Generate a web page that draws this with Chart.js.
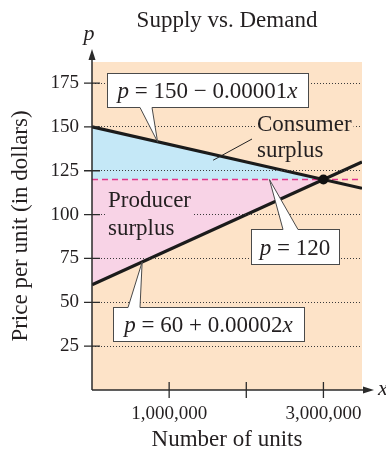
<!DOCTYPE html>
<html><head><meta charset="utf-8">
<script src="https://cdn.jsdelivr.net/npm/chart.js@4/dist/chart.umd.min.js"></script>
<style>html,body{margin:0;padding:0;background:#fff;}#wrap{width:386px;height:451px;}</style>
</head><body><div id="wrap"><canvas id="c" width="386" height="451"></canvas></div>
<script>
const chartTitle = 'Supply vs. Demand';
const xAxisTitle = 'Number of units';
const yAxisTitle = 'Price per unit (in dollars)';
const xDomain = [0, 3500000];
const demandPrices = [150, 115];
const supplyPrices = [60, 130];
const surplusX = [0, 3000000];
const consumerSurplusTop = [150, 120];
const producerSurplusBottom = [60, 120];
const equilibriumX = [3000000];
const equilibriumPrice = [120];
const equilibriumLine = [120, 120];
const yTicks = [25, 50, 75, 100, 125, 150, 175];
const xTicks = [1000000, 2000000, 3000000];
const xTickLabels = ['1,000,000', '', '3,000,000'];
const yMax = 187;
const demandLabel = ['p', ' = 150 \u2212 0.00001', 'x'];
const supplyLabel = ['p', ' = 60 + 0.00002', 'x'];
const priceLabel = ['p', ' = 120', ''];
const consumerText = ['Consumer', 'surplus'];
const producerText = ['Producer', 'surplus'];

const SERIF = "'Liberation Serif', 'Times New Roman', serif";
const INK = '#231f20';
const ORANGE = '#fde3c8';
const BLUE = '#c5e8f7';
const PINK = '#f8d3e6';
const MAGENTA = '#e3338b';

const pts = (xs, ys) => xs.map((x, i) => ({x: x, y: ys[i]}));

Chart.defaults.font.family = SERIF;
Chart.defaults.color = INK;

function partsWidth(ctx, parts, size) {
  let w = 0;
  parts.forEach((p, i) => {
    ctx.font = (i === 1 ? '' : 'italic ') + size + 'px ' + SERIF;
    w += ctx.measureText(p).width;
  });
  return w;
}
function drawParts(ctx, parts, cx, cy, size) {
  const w = partsWidth(ctx, parts, size);
  let x = cx - w / 2;
  ctx.textBaseline = 'alphabetic';
  ctx.textAlign = 'left';
  ctx.fillStyle = INK;
  parts.forEach((p, i) => {
    ctx.font = (i === 1 ? '' : 'italic ') + size + 'px ' + SERIF;
    ctx.fillText(p, x, cy);
    x += ctx.measureText(p).width;
  });
}
function callout(ctx, box, baseA, baseB, tip, side, parts) {
  ctx.save();
  ctx.fillStyle = '#fff';
  ctx.fillRect(box.x, box.y, box.w, box.h);
  ctx.strokeStyle = '#4a4a4a';
  ctx.lineWidth = 1;
  ctx.strokeRect(box.x + 0.5, box.y + 0.5, box.w, box.h);
  const ey = side === 'bottom' ? box.y + box.h + 0.5 : box.y + 0.5;
  const inset = side === 'bottom' ? -2 : 2;
  ctx.beginPath();
  ctx.moveTo(baseA, ey + inset);
  ctx.lineTo(baseA, ey);
  ctx.lineTo(tip.x, tip.y);
  ctx.lineTo(baseB, ey);
  ctx.lineTo(baseB, ey + inset);
  ctx.closePath();
  ctx.fill();
  ctx.beginPath();
  ctx.moveTo(baseA, ey);
  ctx.lineTo(tip.x, tip.y);
  ctx.lineTo(baseB, ey);
  ctx.stroke();
  drawParts(ctx, parts, box.x + box.w / 2, box.y + box.h / 2 + 8, 23);
  ctx.restore();
}

const decor = {
  id: 'decor',
  beforeDraw(chart) {
    const {ctx, chartArea: ca} = chart;
    ctx.save();
    ctx.fillStyle = '#fff';
    ctx.fillRect(0, 0, chart.width, chart.height);
    ctx.fillStyle = ORANGE;
    ctx.fillRect(ca.left, ca.top, ca.right - ca.left, ca.bottom - ca.top);
    ctx.restore();
  },
  afterDraw(chart) {
    const {ctx, chartArea: ca} = chart;
    const xs = chart.scales.x, ys = chart.scales.y;
    const X = v => xs.getPixelForValue(v), Y = v => ys.getPixelForValue(v);
    const ox = X(0), oy = Y(0);
    ctx.save();
    ctx.strokeStyle = '#2b2b2b';
    ctx.fillStyle = '#2b2b2b';
    ctx.lineWidth = 1.5;
    // axes
    ctx.beginPath();
    ctx.moveTo(ox, oy); ctx.lineTo(ox, ca.top - 6);
    ctx.moveTo(ox, oy); ctx.lineTo(ca.right + 4, oy);
    ctx.stroke();
    // arrowheads
    ctx.beginPath();
    ctx.moveTo(ox, ca.top - 13); ctx.lineTo(ox - 3.5, ca.top - 2); ctx.lineTo(ox + 3.5, ca.top - 2); ctx.closePath(); ctx.fill();
    ctx.beginPath();
    ctx.moveTo(ca.right + 12, oy); ctx.lineTo(ca.right + 1, oy - 3.5); ctx.lineTo(ca.right + 1, oy + 3.5); ctx.closePath(); ctx.fill();
    // tick marks
    ctx.lineWidth = 1.3;
    ctx.beginPath();
    yTicks.forEach(v => { ctx.moveTo(ox - 8, Y(v)); ctx.lineTo(ox + 8, Y(v)); });
    xTicks.forEach(v => { ctx.moveTo(X(v), oy - 8); ctx.lineTo(X(v), oy + 8); });
    ctx.stroke();
    // axis letters
    ctx.fillStyle = INK;
    ctx.font = 'italic 22px ' + SERIF;
    ctx.textAlign = 'center';
    ctx.textBaseline = 'alphabetic';
    ctx.fillText('p', ox - 3, ca.top - 22);
    ctx.textAlign = 'left';
    ctx.fillText('x', ca.right + 16, oy + 5);

    // surplus labels
    ctx.font = '23px ' + SERIF;
    const cw = ctx.measureText(consumerText[0]).width;
    ctx.fillStyle = ORANGE;
    ctx.fillRect(ca.left + 163, Y(150) - 2.5, cw + 4, 5);
    const pw = ctx.measureText(producerText[0]).width;
    ctx.fillStyle = PINK;
    ctx.fillRect(ca.left + 14, Y(100) - 2.5, pw + 4, 5);
    ctx.fillStyle = INK;
    ctx.fillText(consumerText[0], ca.left + 165, ca.top + 69);
    ctx.fillText(consumerText[1], ca.left + 165, ca.top + 95);
    ctx.fillText(producerText[0], ca.left + 16, ca.top + 145);
    ctx.fillText(producerText[1], ca.left + 16, ca.top + 173);
    // consumer pointer
    ctx.strokeStyle = '#222';
    ctx.lineWidth = 1;
    ctx.beginPath();
    ctx.moveTo(ca.left + 160, ca.top + 77);
    ctx.lineTo(X(1570000), Y(131));
    ctx.stroke();

    // callouts
    callout(ctx, {x: ca.left + 15, y: ca.top + 11, w: 201, h: 34}, ca.left + 48, ca.left + 60,
      {x: X(850000), y: Y(141.5)}, 'bottom', demandLabel);
    callout(ctx, {x: ca.left + 21, y: ca.top + 245, w: 191, h: 34}, ca.left + 36, ca.left + 48,
      {x: X(650000), y: Y(73)}, 'top', supplyLabel);
    callout(ctx, {x: ca.left + 159, y: ca.top + 167, w: 88, h: 35}, ca.left + 191, ca.left + 206,
      {x: X(2300000), y: Y(120)}, 'top', priceLabel);
    ctx.restore();
  }
};

new Chart(document.getElementById('c'), {
  type: 'line',
  data: {
    datasets: [
      {data: pts(equilibriumX, equilibriumPrice), showLine: false, pointRadius: 5, pointBackgroundColor: '#111', pointBorderWidth: 0, order: 0},
      {data: pts(xDomain, demandPrices), borderColor: '#1b1b1b', borderWidth: 3.2, pointRadius: 0, fill: false, order: 1},
      {data: pts(xDomain, supplyPrices), borderColor: '#1b1b1b', borderWidth: 3.2, pointRadius: 0, fill: false, order: 1},
      {data: pts(xDomain, equilibriumLine), borderColor: MAGENTA, borderWidth: 1.4, borderDash: [6, 4], pointRadius: 0, fill: false, order: 2},
      {data: pts(surplusX, consumerSurplusTop), borderColor: 'rgba(0,0,0,0)', borderWidth: 0, backgroundColor: BLUE, pointRadius: 0, fill: {value: 120}, order: 5},
      {data: pts(surplusX, producerSurplusBottom), borderColor: 'rgba(0,0,0,0)', borderWidth: 0, backgroundColor: PINK, pointRadius: 0, fill: {value: 120}, order: 5}
    ]
  },
  options: {
    responsive: false,
    animation: false,
    devicePixelRatio: 1,
    layout: {padding: {top: 0, left: 0, right: 24, bottom: 0}},
    plugins: {
      legend: {display: false},
      tooltip: {enabled: false},
      title: {display: true, text: chartTitle, fullSize: false, color: INK,
        font: {family: SERIF, size: 23, weight: 'normal', lineHeight: 1.2},
        padding: {top: 7, bottom: 27.4}}
    },
    scales: {
      x: {
        type: 'linear', min: 0, max: 3500000,
        afterBuildTicks: s => { s.ticks = xTicks.map(v => ({value: v})); },
        afterFit: s => { s.height = 61; },
        grid: {display: false},
        border: {display: false},
        ticks: {autoSkip: false, maxRotation: 0, padding: 5, color: INK,
          font: {family: SERIF, size: 19},
          callback: (v, i) => xTickLabels[i]},
        title: {display: true, text: xAxisTitle, color: INK,
          font: {family: SERIF, size: 23, lineHeight: 1}, padding: 0}
      },
      y: {
        type: 'linear', min: 0, max: yMax,
        afterBuildTicks: s => { s.ticks = yTicks.map(v => ({value: v})); },
        afterFit: s => { s.width = 92; },
        grid: {color: '#3a3a3a', lineWidth: 1, drawTicks: false, z: 1},
        border: {display: false, dash: [1, 2]},
        ticks: {padding: 13, color: INK, font: {family: SERIF, size: 19}},
        title: {display: true, text: yAxisTitle, color: INK,
          font: {family: SERIF, size: 23, lineHeight: 1}, padding: {top: 9.5, bottom: 0}}
      }
    }
  },
  plugins: [decor]
});
</script>
</body></html>
